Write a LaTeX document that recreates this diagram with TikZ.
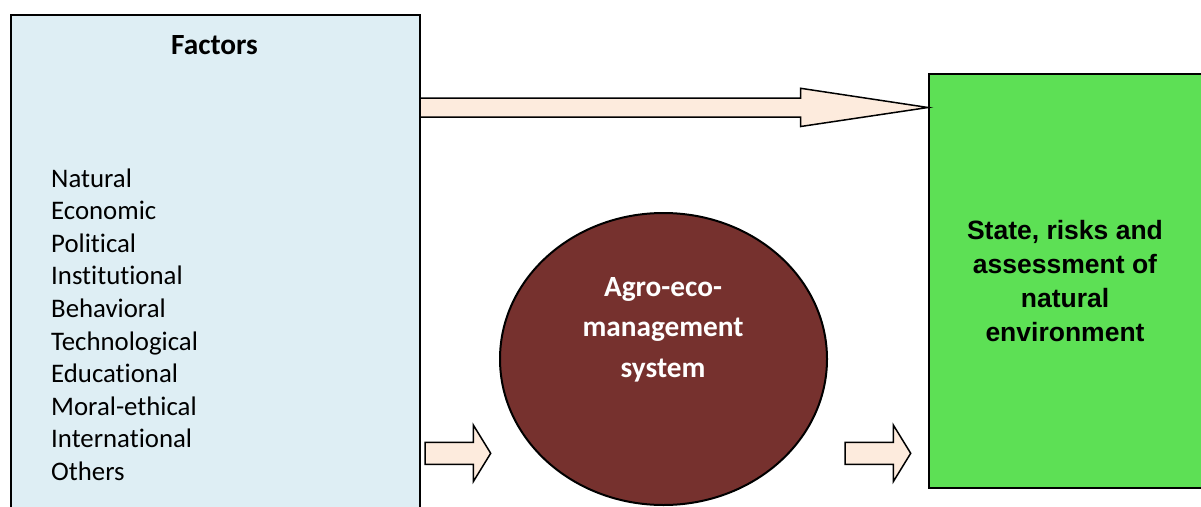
\documentclass[tikz,border=0pt]{standalone}
\usepackage{fontspec}
\setmainfont[Ligatures={NoCommon}]{Carlito}
\newfontfamily\arialb[BoldFont={* Bold}]{Liberation Sans}
\usetikzlibrary{shapes.geometric,calc}
\definecolor{facfill}{HTML}{DEEEF4}
\definecolor{arrfill}{HTML}{FDEBDD}
\definecolor{ecofill}{HTML}{76312E}
\definecolor{envfill}{HTML}{5DE055}
\tikzset{
  box/.style={draw=black, line width=2pt, inner sep=0pt, anchor=north west},
  blockarrow/.style={draw=black, fill=arrfill, line width=1.5pt, line join=miter},
  listtxt/.style={anchor=base west, inner sep=0pt, font=\fontsize{26.8}{31}\selectfont},
  ecotxt/.style={anchor=base, inner sep=0pt, text=white, font=\fontsize{29.3}{33}\selectfont\bfseries},
  envtxt/.style={anchor=base, inner sep=0pt, font=\fontsize{26.5}{31}\selectfont\arialb\bfseries},
}
\begin{document}
\begin{tikzpicture}[x=1pt,y=-1pt]
\useasboundingbox (0,0) rectangle (1201,506);
\clip (0,0) rectangle (1201,506);
\fill[white] (0,0) rectangle (1201,506);
% boxes
\node[box, fill=facfill, minimum width=409pt, minimum height=520pt] (fac) at (10,14) {};
\node[box, fill=envfill, minimum width=300pt, minimum height=414pt] (env) at (928,73) {};
\node[draw=black, line width=2pt, fill=ecofill, ellipse, inner sep=0pt,
      minimum width=327pt, minimum height=292pt] (eco) at (663.5,359) {};
% texts
\node[anchor=base, inner sep=0pt, font=\fontsize{29.3}{33}\selectfont\bfseries] (factitle) at (214.5,54) {Factors};
\foreach \t [count=\i from 0] in {Natural,Economic,Political,Institutional,Behavioral,Technological,Educational,Moral-ethical,International,Others}
  \node[listtxt] (f\i) at (51,{187+32.6*\i}) {\t};
\node[ecotxt] (eco1) at (663,296) {Agro-eco-};
\node[ecotxt] (eco2) at (663,336.5) {management};
\node[ecotxt] (eco3) at (663,377) {system};
\node[envtxt] (env1) at (1065,239) {State, risks and};
\node[envtxt] (env2) at (1065,273.3) {assessment of};
\node[envtxt] (env3) at (1065,307.5) {natural};
\node[envtxt] (env4) at (1065,341.7) {environment};
% big arrow from factors to environment
\coordinate (bigstart) at (fac.east |- 0,107.5);
\coordinate (bigtip) at (env.west |- 0,107.5);
\draw[blockarrow] ($(bigstart)+(0,-9.5)$) -- (800.7,98) -- (800.7,88.3) -- (bigtip)
  -- (800.7,126.5) -- (800.7,117) -- ($(bigstart)+(0,9.5)$);
% small arrows
\coordinate (a1) at (425,453.3);
\coordinate (a2) at (845,453.3);
\foreach \c in {a1,a2}{
  \draw[blockarrow] (\c) ++(0,-11) -- ++(48.3,0) -- ++(0,-17.3) -- ++(17.4,28.3)
    -- ++(-17.4,28.3) -- ++(0,-17.3) -- ++(-48.3,0) -- cycle;
}
\end{tikzpicture}
\end{document}
